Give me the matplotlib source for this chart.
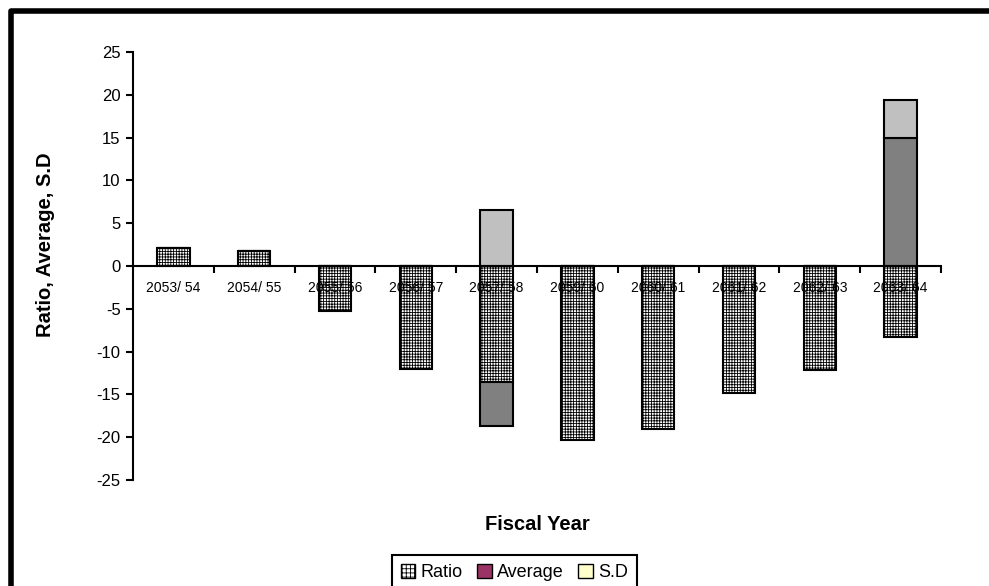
import numpy as np
import matplotlib.pyplot as plt
from matplotlib.patches import Patch
from matplotlib.lines import Line2D

plt.rcParams['font.family'] = ['Liberation Sans', 'DejaVu Sans']
plt.rcParams['axes.unicode_minus'] = False
plt.rcParams['hatch.linewidth'] = 0.6

years = ["2053/ 54", "2054/ 55", "2055/ 56", "2056/ 57", "2057/ 58",
         "2059/ 60", "2060/ 61", "2061/ 62", "2062/ 63", "2063/ 64"]
ratio = [2.1, 1.7, -5.2, -12.0, -13.5, -20.3, -19.0, -14.8, -12.2, -8.3]
average = [0, 0, 0, 0, -5.2, 0, 0, 0, 0, 15.0]
sd = [0, 0, 0, 0, 6.5, 0, 0, 0, 0, 4.4]

fig = plt.figure(figsize=(9.89, 5.86), dpi=100)
ax = fig.add_axes([0.1345, 0.181, 0.817, 0.730])

x = np.arange(len(years))
w = 0.4

# stack like a spreadsheet: positives pile up from 0, negatives down from 0
pos_base = np.zeros(len(years))
neg_base = np.zeros(len(years))
series = [(ratio, dict(facecolor="white", hatch="++++++")),
          (average, dict(facecolor="#808080")),
          (sd, dict(facecolor="#C0C0C0"))]
for vals, style in series:
    vals = np.array(vals, dtype=float)
    base = np.where(vals >= 0, pos_base, neg_base)
    ax.bar(x, vals, w, bottom=base, edgecolor="black", linewidth=1.5, **style)
    pos_base += np.where(vals > 0, vals, 0)
    neg_base += np.where(vals < 0, vals, 0)

ax.set_xlim(-0.5, len(years) - 0.5)
ax.set_ylim(-25, 25)
ax.set_yticks(np.arange(-25, 26, 5))

ax.spines["top"].set_visible(False)
ax.spines["right"].set_visible(False)
ax.spines["bottom"].set_position(("data", 0))
ax.spines["left"].set_linewidth(1.5)
ax.spines["bottom"].set_linewidth(1.5)

ax.set_xticks(x)
ax.set_xticklabels(years, fontsize=10)
ax.set_xticks(np.arange(0.5, len(years), 1), minor=True)
ax.tick_params(axis="x", which="major", length=0, pad=11)
ax.tick_params(axis="x", which="minor", length=5, width=1.5, direction="out")
ax.tick_params(axis="y", length=5, width=1.5, labelsize=12, pad=4)

ax.set_ylabel("Ratio, Average, S.D", fontsize=14.5, fontweight="bold")
ax.yaxis.set_label_coords(-0.097, 0.549)
ax.set_xlabel("Fiscal Year", fontsize=14.5, fontweight="bold")
ax.xaxis.set_label_coords(0.5, -0.082)

handles = [Patch(facecolor="white", edgecolor="black", hatch="++++"),
           Patch(facecolor="#993366", edgecolor="black"),
           Patch(facecolor="#FFFFCC", edgecolor="black")]
leg = fig.legend(handles, ["Ratio", "Average", "S.D"], ncol=3,
                 loc="upper center", bbox_to_anchor=(0.52, 1 - 546 / 586),
                 fontsize=13, frameon=True, fancybox=False, framealpha=1,
                 edgecolor="black", handlelength=0.8, handleheight=0.8,
                 handletextpad=0.3, columnspacing=0.8, borderpad=0.5)
leg.get_frame().set_linewidth(1.5)

# outer frame on the left and top edges
fx = 11 / 989
fy = 1 - 11 / 586
fig.add_artist(Line2D([fx, fx, 1], [0, fy, fy], transform=fig.transFigure,
                      color="black", linewidth=4))

fig.savefig("out.png", dpi=100)
